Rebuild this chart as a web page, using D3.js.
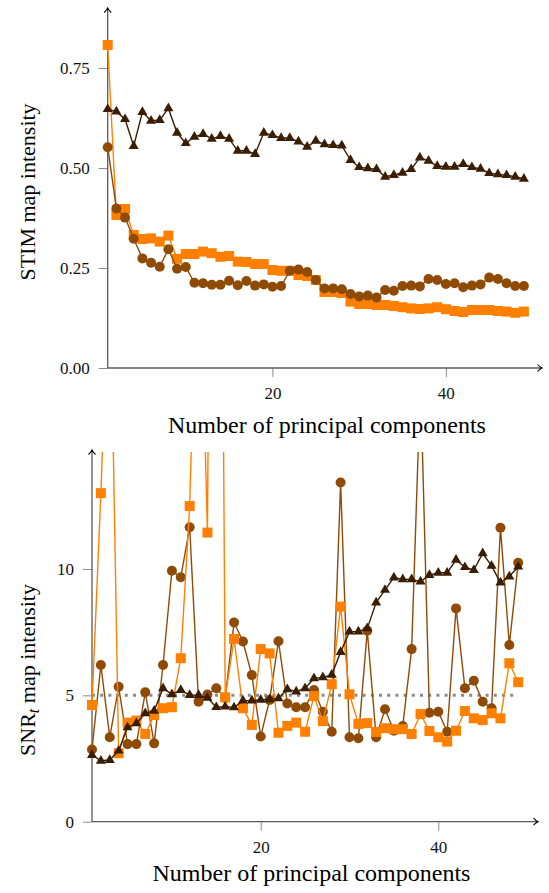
<!DOCTYPE html>
<html><head><meta charset="utf-8">
<script src="https://cdn.jsdelivr.net/npm/d3@7"></script>
<style>body{margin:0;background:#fff} svg{display:block} text{font-family:"Liberation Serif","DejaVu Serif",serif !important;}</style>
</head><body><svg id="c" width="549" height="893"></svg>
<script>
const components = [1,2,3,4,5,6,7,8,9,10,11,12,13,14,15,16,17,18,19,20,21,22,23,24,25,26,27,28,29,30,31,32,33,34,35,36,37,38,39,40,41,42,43,44,45,46,47,48,49];

// Top panel: STIM map intensity
const stimTriangle = [0.647,0.641,0.622,0.555,0.64,0.618,0.62,0.649,0.588,0.562,0.578,0.585,0.573,0.58,0.573,0.543,0.543,0.535,0.588,0.582,0.575,0.575,0.566,0.553,0.568,0.559,0.557,0.556,0.52,0.502,0.499,0.497,0.478,0.4825,0.488,0.497,0.526,0.518,0.505,0.503,0.503,0.51,0.502,0.498,0.487,0.484,0.482,0.478,0.473];
const stimCircle = [0.552,0.399,0.376,0.323,0.274,0.263,0.253,0.297,0.248,0.2525,0.213,0.212,0.208,0.208,0.218,0.207,0.2175,0.206,0.209,0.203,0.205,0.243,0.246,0.24,0.22,0.199,0.199,0.197,0.185,0.179,0.181,0.176,0.195,0.193,0.205,0.206,0.204,0.2225,0.22,0.21,0.212,0.202,0.206,0.209,0.226,0.2225,0.212,0.205,0.205];
const stimSquare = [0.8075,0.3825,0.3975,0.3325,0.3225,0.324,0.316,0.331,0.273,0.285,0.285,0.291,0.287,0.278,0.28,0.266,0.265,0.26,0.26,0.245,0.243,0.243,0.2325,0.23,0.22,0.19,0.19,0.1875,0.166,0.16,0.16,0.1575,0.1575,0.155,0.152,0.149,0.1475,0.149,0.152,0.147,0.1425,0.14,0.145,0.145,0.145,0.1425,0.141,0.138,0.141];
const stimTicks = [0, 0.25, 0.5, 0.75];
const stimTickLabels = ["0.00", "0.25", "0.50", "0.75"];

// Bottom panel: SNR_t map intensity
const snrTriangle = [2.64,2.41,2.44,2.81,3.73,3.89,4.29,4.39,5.28,5.04,5.21,5.01,5.01,4.9,4.53,4.55,4.52,4.79,4.79,4.82,4.84,4.88,5.24,5.15,5.28,5.67,5.71,5.81,6.71,7.52,7.52,7.65,8.67,9.17,9.66,9.59,9.59,9.5,9.76,9.85,9.85,10.36,10.07,9.96,10.62,10.12,9.46,9.7,10.09];
const snrCircle = [2.86,6.2,3.34,5.34,3.07,3.07,5.12,3.1,6.2,9.93,9.67,11.65,4.75,5.03,5.28,4.9,7.88,7.13,5.8,3.37,4.82,7.14,4.68,4.53,4.53,5.21,4.35,3.56,13.42,3.34,3.3,7.56,3.34,4.45,3.6,3.79,6.83,17.5,4.31,4.35,3.56,8.44,5.28,5.58,4.75,4.49,11.63,6.99,10.25];
const snrSquare = [4.62,13.0,22.8,2.71,3.92,4.0,3.47,4.22,4.49,4.53,6.47,12.49,25,11.44,60,4.92,7.23,4.49,3.83,6.83,6.66,3.52,3.79,3.92,3.56,4.97,3.98,5.44,8.51,5.04,3.87,3.9,3.55,3.7,3.66,3.66,3.47,4.26,3.59,3.34,3.17,3.6,4.38,4.09,4.02,4.29,4.09,6.27,5.52];
const snrTicks = [0, 5, 10];
const snrTickLabels = ["0", "5", "10"];
const snrThreshold = 5;

const xTicks = [20, 40];
const xTickLabels = ["20", "40"];

const C_ORANGE = "#ff8000", C_BROWN = "#8f4a06", C_DARK = "#3a1d03";
const AXIS = "#5a5a5a", TICK = "#8a8a8a";
const FONT = "Liberation Serif";

const svg = d3.select("#c");

function panel(cfg) {
  const g = svg.append("g");
  const x = d3.scaleLinear().domain([1, 49]).range(cfg.xr);
  const y = d3.scaleLinear().domain(cfg.yd).range(cfg.yr);
  const x0 = cfg.xr[0], y0 = cfg.yr[0];
  const clipId = "clip" + cfg.id;
  svg.append("clipPath").attr("id", clipId).append("rect")
    .attr("x", x0 - 20).attr("y", cfg.clipTop).attr("width", 480).attr("height", y0 - cfg.clipTop + 20);

  const yAxis = d3.axisLeft(y).tickValues(cfg.yTicks).tickFormat((d, i) => cfg.yLabels[i]).tickSize(9).tickPadding(cfg.yPad);
  const ya = g.append("g").attr("transform", `translate(${x0},0)`).call(yAxis);
  const xAxis = d3.axisBottom(x).tickValues(xTicks).tickFormat((d, i) => xTickLabels[i]).tickSize(9).tickPadding(cfg.xPad);
  const xa = g.append("g").attr("transform", `translate(0,${y0})`).call(xAxis);
  [ya, xa].forEach(a => {
    a.attr("font-family", null);
    a.select(".domain").remove();
    a.selectAll(".tick line").attr("stroke", TICK).attr("stroke-width", 1);
    a.selectAll(".tick text").style("font-family", FONT).attr("font-size", 17).attr("fill", "#111");
  });

  g.append("line").attr("x1", x0).attr("x2", cfg.xEnd).attr("y1", y0).attr("y2", y0).attr("stroke", AXIS).attr("stroke-width", 1.3);
  g.append("line").attr("x1", x0).attr("x2", x0).attr("y1", y0).attr("y2", cfg.yEnd).attr("stroke", AXIS).attr("stroke-width", 1.3);
  g.append("path").attr("d", `M${cfg.xEnd - 4.5},${y0 - 3.5} Q${cfg.xEnd - 2},${y0 - 0.8} ${cfg.xEnd},${y0} Q${cfg.xEnd - 2},${y0 + 0.8} ${cfg.xEnd - 4.5},${y0 + 3.5}`)
    .attr("fill", "none").attr("stroke", "#000").attr("stroke-width", 1.1);
  g.append("path").attr("d", `M${x0 - 3.5},${cfg.yEnd + 4.5} Q${x0 - 0.8},${cfg.yEnd + 2} ${x0},${cfg.yEnd} Q${x0 + 0.8},${cfg.yEnd + 2} ${x0 + 3.5},${cfg.yEnd + 4.5}`)
    .attr("fill", "none").attr("stroke", "#000").attr("stroke-width", 1.1);

  const plot = g.append("g").attr("clip-path", `url(#${clipId})`);

  if (cfg.threshold !== undefined) {
    plot.append("line").attr("x1", x(1)).attr("x2", x(49)).attr("y1", y(cfg.threshold)).attr("y2", y(cfg.threshold))
      .attr("stroke", "#8a8a8a").attr("stroke-width", 3).attr("stroke-dasharray", "3 5.2");
  }

  const line = d3.line().x((d, i) => x(components[i])).y(d => y(d));
  cfg.series.forEach(s => {
    plot.append("path").datum(s.values).attr("d", line).attr("fill", "none").attr("stroke", s.color).attr("stroke-width", 1.4);
    const m = plot.append("g").attr("fill", s.color);
    s.values.forEach((v, i) => {
      const cx = x(components[i]), cy = y(v);
      if (s.shape === "square") {
        m.append("rect").attr("x", cx - 5).attr("y", cy - 5).attr("width", 10).attr("height", 10);
      } else if (s.shape === "circle") {
        m.append("circle").attr("cx", cx).attr("cy", cy).attr("r", 5);
      } else {
        const r = 5.8;
        m.append("path").attr("d", `M${cx},${cy - r} L${cx + r * 0.866},${cy + r * 0.5} L${cx - r * 0.866},${cy + r * 0.5}Z`);
      }
    });
  });

  g.append("text").attr("x", cfg.titleX).attr("y", cfg.titleY).attr("text-anchor", "middle")
    .style("font-family", FONT).attr("font-size", 24).attr("fill", "#000").text("Number of principal components");
  const yl = g.append("text").attr("transform", `translate(35,${cfg.ylabY}) rotate(-90)`).attr("text-anchor", "middle")
    .style("font-family", FONT).attr("font-size", 22).attr("fill", "#000");
  cfg.ylab(yl);
}

panel({
  id: "top", xr: [107.7, 523.9], yd: [0, 0.9], yr: [368, 8], xEnd: 542, yEnd: 8, clipTop: 0,
  yTicks: stimTicks, yLabels: stimTickLabels, yPad: 9, xPad: 10,
  titleX: 327, titleY: 433, ylabY: 192,
  ylab: t => t.text("STIM map intensity"),
  series: [
    { values: stimSquare, color: C_ORANGE, shape: "square" },
    { values: stimCircle, color: C_BROWN, shape: "circle" },
    { values: stimTriangle, color: C_DARK, shape: "triangle" }
  ]
});

panel({
  id: "bot", xr: [92, 518.2], yd: [0, 14.7], yr: [821.7, 450.2], xEnd: 538, yEnd: 450, clipTop: 452,
  yTicks: snrTicks, yLabels: snrTickLabels, yPad: 9, xPad: 10,
  titleX: 311.5, titleY: 881, ylabY: 670, threshold: snrThreshold,
  ylab: t => {
    t.append("tspan").text("SNR");
    t.append("tspan").attr("font-style", "italic").attr("font-size", 16).attr("dy", 4).text("t");
    t.append("tspan").attr("dy", -4).text(" map intensity");
  },
  series: [
    { values: snrCircle, color: C_BROWN, shape: "circle" },
    { values: snrSquare, color: C_ORANGE, shape: "square" },
    { values: snrTriangle, color: C_DARK, shape: "triangle" }
  ]
});
</script>
</body></html>
